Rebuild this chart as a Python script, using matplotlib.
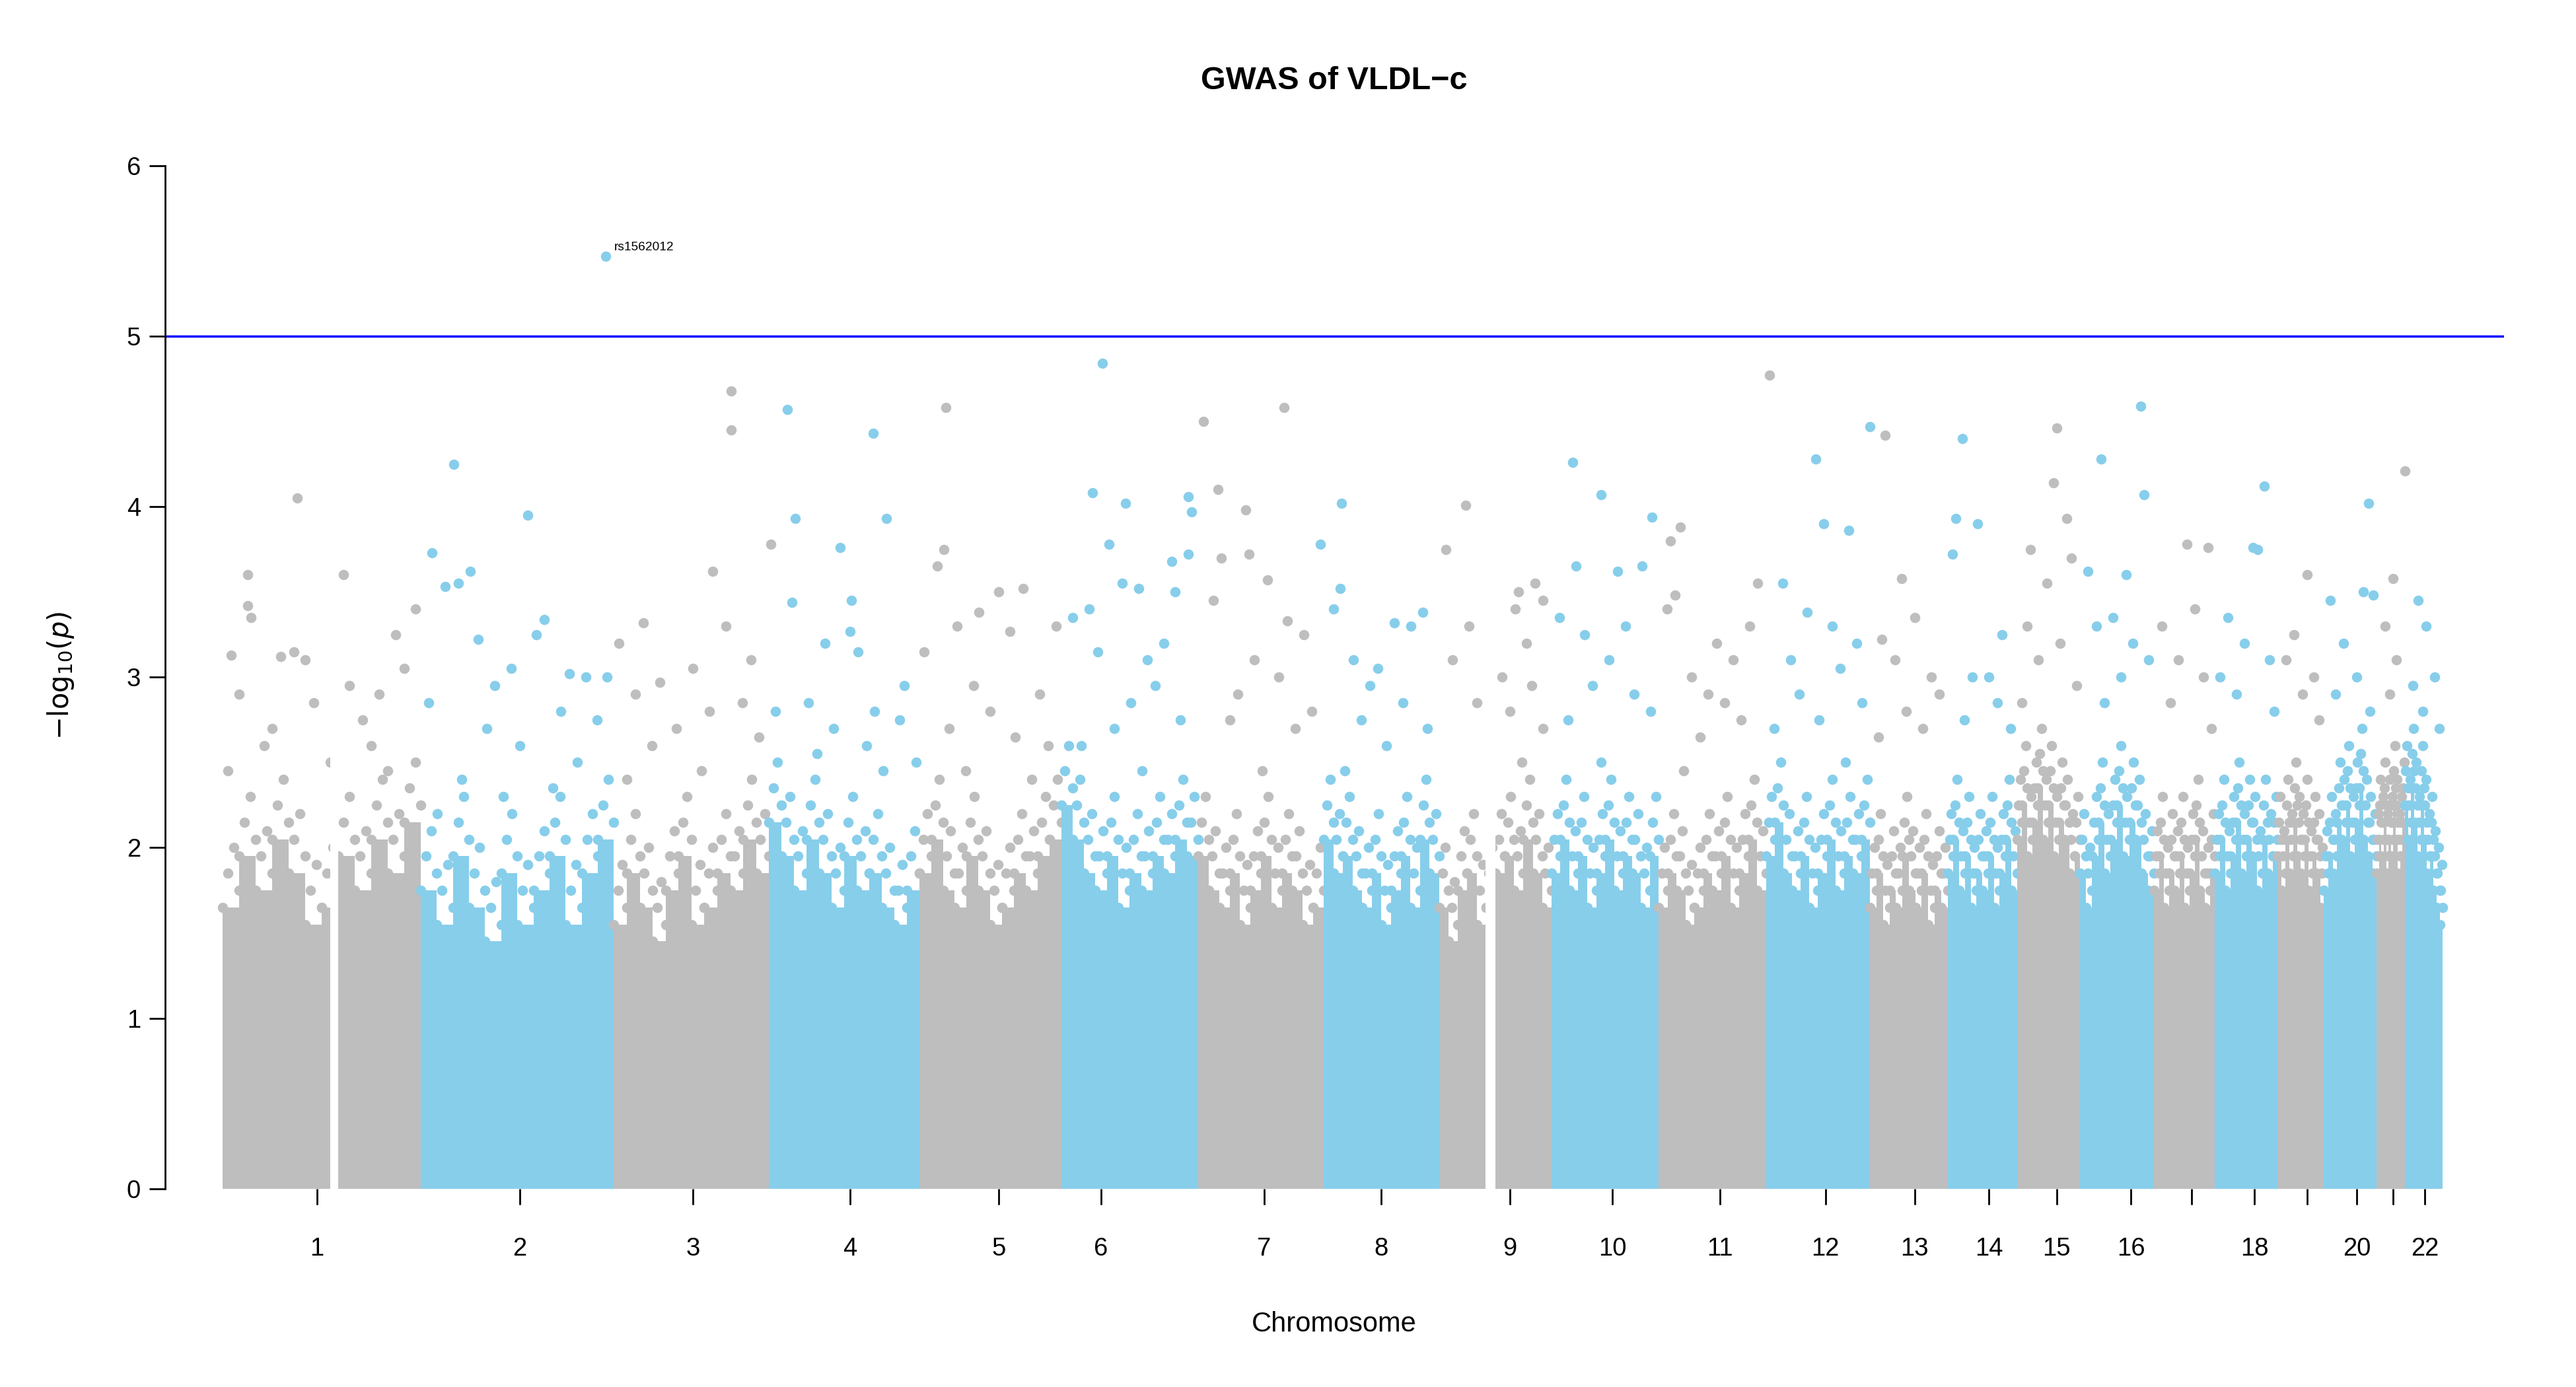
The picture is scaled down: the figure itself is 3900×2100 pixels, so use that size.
import matplotlib.pyplot as plt
import numpy as np

plt.rcParams['font.family'] = ['Liberation Sans', 'DejaVu Sans']

GREY = '#BEBEBE'
BLUE = '#87CEEB'

# chromosome blocks along the genome axis (cumulative position units)
chrom_start = [135, 255, 372, 466, 557, 643, 726, 802, 872, 940, 1005, 1070,
               1133, 1180, 1222, 1260, 1305, 1342, 1380, 1408, 1440, 1457]
chrom_end = [255, 372, 466, 557, 643, 726, 802, 872, 940, 1005, 1070, 1133,
             1180, 1222, 1260, 1305, 1342, 1380, 1408, 1440, 1457, 1480]
# ragged upper edge of the saturated bulk, evenly spaced along each chromosome
bulk_edge = [
    [2.0, 2.3, 2.1, 2.4, 2.2, 1.9, 2.0, 2.3, 2.1, 2.4, 2.2, 2.5],
    [2.1, 1.9, 2.3, 2.0, 1.8, 2.2, 1.9, 2.1, 2.3, 1.9, 2.2, 2.4],
    [1.9, 2.2, 2.0, 1.8, 2.1, 2.3, 1.9, 2.0, 2.2, 2.1, 2.4, 2.2],
    [2.5, 2.3, 2.1, 2.4, 2.2, 2.0, 2.3, 2.1, 2.2, 2.0, 1.9, 2.1],
    [2.2, 2.4, 2.1, 2.0, 2.3, 2.1, 1.9, 2.0, 2.2, 2.1, 2.3, 2.4],
    [2.6, 2.4, 2.2, 2.1, 2.3, 2.0, 2.2, 2.1, 2.3, 2.2, 2.4, 2.3],
    [2.3, 2.1, 2.0, 2.2, 1.9, 2.1, 2.3, 2.0, 2.2, 2.1, 1.9, 2.0],
    [2.4, 2.2, 2.3, 2.1, 2.0, 2.2, 1.9, 2.1, 2.3, 2.0, 2.4, 2.2],
    [2.0, 1.8, 2.1, 2.2, 1.9, 2.0, 2.2, 2.3, 2.1, 2.4, 2.2, 2.0],
    [2.2, 2.4, 2.1, 2.3, 2.0, 2.2, 2.4, 2.1, 2.3, 2.2, 2.0, 2.3],
    [2.0, 2.2, 2.1, 1.9, 2.0, 2.2, 2.1, 2.3, 2.0, 2.2, 2.4, 2.1],
    [2.3, 2.5, 2.2, 2.1, 2.3, 2.0, 2.2, 2.4, 2.1, 2.3, 2.2, 2.4],
    [2.0, 2.2, 1.9, 2.1, 2.0, 2.3, 2.1, 2.0, 2.2, 1.9, 2.1, 2.0],
    [2.2, 2.4, 2.1, 2.3, 2.0, 2.2, 2.1, 2.3, 2.0, 2.2, 2.4, 2.1],
    [2.4, 2.6, 2.3, 2.5, 2.7, 2.4, 2.6, 2.3, 2.5, 2.4, 2.2, 2.3],
    [2.2, 2.0, 2.3, 2.5, 2.2, 2.4, 2.6, 2.3, 2.5, 2.4, 2.2, 2.1],
    [2.1, 2.3, 2.0, 2.2, 2.1, 2.3, 2.0, 2.2, 2.4, 2.1, 2.0, 2.2],
    [2.2, 2.4, 2.1, 2.3, 2.5, 2.2, 2.4, 2.3, 2.1, 2.4, 2.2, 2.3],
    [2.3, 2.1, 2.4, 2.2, 2.5, 2.3, 2.2, 2.4, 2.1, 2.3, 2.2, 2.0],
    [2.1, 2.3, 2.2, 2.5, 2.4, 2.6, 2.3, 2.5, 2.7, 2.4, 2.3, 2.2],
    [2.2, 2.4, 2.3, 2.5, 2.2, 2.4, 2.3, 2.6, 2.4, 2.2, 2.3, 2.5],
    [2.6, 2.4, 2.7, 2.5, 2.3, 2.6, 2.4, 2.2, 2.3, 2.1, 2.0, 1.9],
]
# centromere gaps with no SNPs: (start, end)
gaps = [(200, 205), (900, 906)]

tick_pos = [192, 315, 420, 515, 605, 667, 766, 837, 915, 977, 1042, 1106,
            1160, 1205, 1246, 1291, 1328, 1366, 1398, 1428, 1450, 1469]
tick_lab = ['1', '2', '3', '4', '5', '6', '7', '8', '9', '10', '11', '12',
            '13', '14', '15', '16', '', '18', '', '20', '', '22']

# upper-tail SNPs per chromosome: (position, -log10 p)
top_snps = [
    [(180, 4.05), (150, 3.6), (150, 3.42), (152, 3.35), (140, 3.13), (178, 3.15), (185, 3.1), (170, 3.12),
     (208, 3.6), (212, 2.95), (240, 3.25), (245, 3.05), (252, 3.4), (220, 2.75), (165, 2.7), (190, 2.85),
     (230, 2.9), (145, 2.9), (160, 2.6), (225, 2.6), (200, 2.5), (138, 2.45), (235, 2.45)],
    [(275, 4.25), (262, 3.73), (285, 3.62), (270, 3.53), (278, 3.55), (320, 3.95), (330, 3.34), (325, 3.25),
     (290, 3.22), (345, 3.02), (355, 3.0), (368, 3.0), (300, 2.95), (310, 3.05), (260, 2.85), (340, 2.8),
     (362, 2.75), (295, 2.7), (315, 2.6), (350, 2.5), (280, 2.4), (305, 2.3), (335, 2.35), (265, 2.2)],
    [(443, 4.68), (443, 4.45), (432, 3.62), (467, 3.78), (440, 3.3), (390, 3.32), (375, 3.2), (455, 3.1),
     (420, 3.05), (400, 2.97), (385, 2.9), (430, 2.8), (410, 2.7), (450, 2.85), (460, 2.65), (395, 2.6),
     (425, 2.45), (380, 2.4)],
    [(477, 4.57), (529, 4.43), (482, 3.93), (537, 3.93), (509, 3.76), (480, 3.44), (516, 3.45), (500, 3.2),
     (515, 3.27), (520, 3.15), (548, 2.95), (490, 2.85), (530, 2.8), (545, 2.75), (505, 2.7), (470, 2.8),
     (525, 2.6), (555, 2.5), (495, 2.55), (535, 2.45)],
    [(573, 4.58), (572, 3.75), (568, 3.65), (620, 3.52), (605, 3.5), (593, 3.38), (580, 3.3), (612, 3.27),
     (640, 3.3), (560, 3.15), (590, 2.95), (630, 2.9), (600, 2.8), (575, 2.7), (615, 2.65), (635, 2.6),
     (585, 2.45), (625, 2.4)],
    [(668, 4.84), (662, 4.08), (682, 4.02), (720, 4.06), (722, 3.97), (672, 3.78), (710, 3.68), (720, 3.72),
     (680, 3.55), (690, 3.52), (660, 3.4), (650, 3.35), (712, 3.5), (705, 3.2), (695, 3.1), (665, 3.15),
     (700, 2.95), (685, 2.85), (715, 2.75), (675, 2.7), (655, 2.6), (692, 2.45)],
    [(729, 4.5), (778, 4.58), (738, 4.1), (755, 3.98), (757, 3.72), (740, 3.7), (768, 3.57), (780, 3.33),
     (790, 3.25), (735, 3.45), (760, 3.1), (775, 3.0), (750, 2.9), (795, 2.8), (745, 2.75), (785, 2.7),
     (765, 2.45)],
    [(813, 4.02), (800, 3.78), (812, 3.52), (808, 3.4), (845, 3.32), (862, 3.38), (855, 3.3), (820, 3.1),
     (835, 3.05), (830, 2.95), (850, 2.85), (825, 2.75), (865, 2.7), (840, 2.6), (815, 2.45)],
    [(888, 4.01), (876, 3.75), (920, 3.5), (930, 3.55), (935, 3.45), (918, 3.4), (890, 3.3), (880, 3.1),
     (925, 3.2), (910, 3.0), (928, 2.95), (915, 2.8), (895, 2.85), (935, 2.7), (922, 2.5)],
    [(953, 4.26), (970, 4.07), (1001, 3.94), (955, 3.65), (980, 3.62), (995, 3.65), (945, 3.35), (960, 3.25),
     (985, 3.3), (975, 3.1), (965, 2.95), (990, 2.9), (1000, 2.8), (950, 2.75), (970, 2.5)],
    [(1072, 4.77), (1018, 3.88), (1012, 3.8), (1015, 3.48), (1010, 3.4), (1065, 3.55), (1060, 3.3), (1040, 3.2),
     (1050, 3.1), (1025, 3.0), (1035, 2.9), (1045, 2.85), (1055, 2.75), (1030, 2.65), (1020, 2.45)],
    [(1133, 4.47), (1100, 4.28), (1105, 3.9), (1120, 3.86), (1080, 3.55), (1095, 3.38), (1110, 3.3), (1125, 3.2),
     (1085, 3.1), (1115, 3.05), (1090, 2.9), (1128, 2.85), (1102, 2.75), (1075, 2.7), (1118, 2.5)],
    [(1142, 4.42), (1152, 3.58), (1140, 3.22), (1160, 3.35), (1170, 3.0), (1148, 3.1), (1175, 2.9), (1155, 2.8),
     (1165, 2.7), (1138, 2.65)],
    [(1189, 4.4), (1185, 3.93), (1198, 3.9), (1183, 3.72), (1213, 3.25), (1195, 3.0), (1205, 3.0), (1210, 2.85),
     (1190, 2.75), (1218, 2.7)],
    [(1246, 4.46), (1244, 4.14), (1252, 3.93), (1230, 3.75), (1240, 3.55), (1255, 3.7), (1228, 3.3), (1248, 3.2),
     (1235, 3.1), (1258, 2.95), (1225, 2.85)],
    [(1297, 4.59), (1273, 4.28), (1299, 4.07), (1265, 3.62), (1288, 3.6), (1270, 3.3), (1280, 3.35), (1292, 3.2),
     (1302, 3.1), (1285, 3.0), (1275, 2.85)],
    [(1325, 3.78), (1338, 3.76), (1330, 3.4), (1310, 3.3), (1320, 3.1), (1335, 3.0), (1315, 2.85), (1340, 2.7)],
    [(1372, 4.12), (1365, 3.76), (1368, 3.75), (1350, 3.35), (1360, 3.2), (1375, 3.1), (1345, 3.0), (1355, 2.9),
     (1378, 2.8)],
    [(1398, 3.6), (1390, 3.25), (1385, 3.1), (1402, 3.0), (1395, 2.9), (1405, 2.75)],
    [(1435, 4.02), (1412, 3.45), (1432, 3.5), (1438, 3.48), (1420, 3.2), (1428, 3.0), (1415, 2.9), (1436, 2.8)],
    [(1450, 3.58), (1457, 4.21), (1445, 3.3), (1452, 3.1), (1448, 2.9)],
    [(1465, 3.45), (1470, 3.3), (1475, 3.0), (1462, 2.95), (1478, 2.7), (1468, 2.8)],
]

lead_snp = 'rs1562012'
lead_pos = 367
lead_p = 5.47
threshold = 5

fig = plt.figure(figsize=(15.6, 8.4), dpi=250)
ax = fig.add_axes([0.064, 0.143, 0.908, 0.740])

for i in range(22):
    col = GREY if i % 2 == 0 else BLUE
    edge = np.array(bulk_edge[i])
    n = len(edge)
    bounds = np.linspace(chrom_start[i], chrom_end[i], n + 1)
    for k in range(n):
        lo = edge[k] - 0.35
        ax.fill_between([bounds[k], bounds[k + 1]], 0, lo, color=col, lw=0)
        # fuzzy edge: a few dots per segment between bulk and its edge
        xs = np.linspace(bounds[k], bounds[k + 1], 4)
        ys = np.array([lo, edge[k] - 0.15, edge[k], lo + 0.1])
        ax.scatter(xs, ys, s=20, color=col, lw=0)
    pts = np.array(top_snps[i])
    ax.scatter(pts[:, 0], pts[:, 1], s=20, color=col, lw=0)

for g0, g1 in gaps:
    ax.fill_between([g0, g1], 0, 3, color='white', lw=0, zorder=3)

ax.scatter([lead_pos], [lead_p], s=20, color=BLUE, lw=0)
ax.text(lead_pos + 5, lead_p + 0.02, lead_snp, fontsize=5.5, va='bottom')
ax.axhline(threshold, color='blue', lw=1.0)

ax.set_xlim(100, 1517)
ax.set_ylim(0, 6.02)
ax.spines[['top', 'right', 'bottom']].set_visible(False)
ax.spines['left'].set_bounds(0, 6)
ax.set_yticks(range(7))
ax.set_xticks(tick_pos)
ax.set_xticklabels(tick_lab)
ax.tick_params(axis='both', labelsize=11, length=7, direction='out')
ax.tick_params(axis='x', pad=14)
ax.set_xlabel('Chromosome', fontsize=12, labelpad=22)
ax.set_ylabel(r'$-\mathrm{log}_{10}(\mathit{p})$', fontsize=12, labelpad=22)
ax.set_title('GWAS of VLDL\u2212c', fontsize=14, fontweight='bold', pad=32)

fig.savefig('out.png', dpi=250)
